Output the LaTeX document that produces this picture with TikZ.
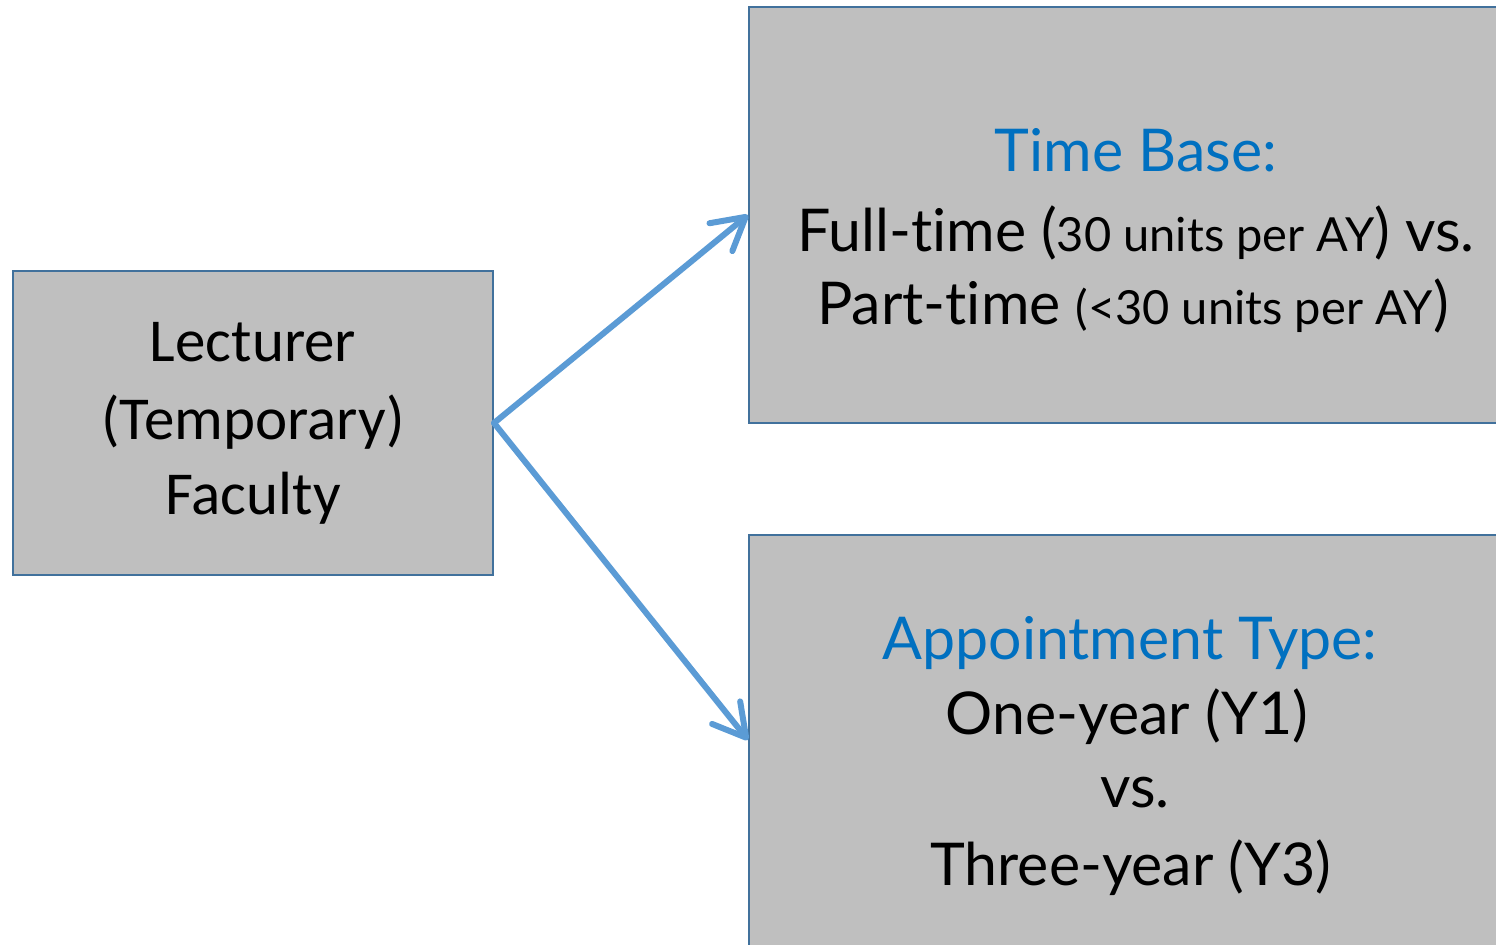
\documentclass[tikz,border=0pt]{standalone}
\usepackage{fontspec}
\setmainfont{Lato}[RawFeature={-liga;-clig;-dlig;-calt}]
\newfontfamily\calib{Carlito}
\usetikzlibrary{arrows.meta}
\definecolor{boxfill}{HTML}{BFBFBF}
\definecolor{boxline}{HTML}{41719C}
\definecolor{arrowblue}{HTML}{5B9BD5}
\definecolor{titleblue}{HTML}{0070C0}
\tikzset{
  box/.style={draw=boxline, line width=1pt, fill=boxfill},
  leftline/.style={anchor=base, inner sep=0pt, font=\calib\fontsize{30.5}{36}\selectfont},
  rightline/.style={anchor=base, inner sep=0pt, font=\fontsize{29.5}{34}\selectfont},
  title/.style={rightline, text=titleblue},
  conn/.style={draw=arrowblue, line width=3pt, line cap=round, line join=round,
    -{Straight Barb[length=16pt,width=18pt,line cap=round,line join=round]}},
}
\newcommand{\sm}[1]{{\fontsize{23.5}{28}\selectfont #1}}
\begin{document}
\begin{tikzpicture}[x=0.5pt,y=-0.5pt]
\useasboundingbox (0,0) rectangle (1496,945);
\begin{scope}
\clip (0,0) rectangle (1496,945);
\node[box, minimum width=240pt, minimum height=152pt, anchor=north west, inner sep=0pt] (left) at (12,270) {};
\node[box, minimum width=385pt, minimum height=208pt, anchor=north west, inner sep=0pt] (top) at (748,6) {};
\node[box, minimum width=385pt, minimum height=230pt, anchor=north west, inner sep=0pt] (bot) at (748,534) {};
\end{scope}
\node[leftline] (l1) at (253,362) {Lecturer};
\node[leftline] (l2) at (253,440) {(Temporary)};
\node[leftline] (l3) at (253,515) {Faculty};
\node[title] (t1) at (1136,172) {Time Base:};
\node[rightline] (t2) at (1136,252) {Full-time (\sm{30 units per AY}) vs.};
\node[rightline] (t3) at (1133,325) {Part-time \sm{(<30 units per AY})};
\node[title] (b1) at (1130,660) {Appointment Type:};
\node[rightline] (b2) at (1127,735) {One-year (Y1)};
\node[rightline] (b3) at (1135,808) {vs.};
\node[rightline] (b4) at (1131,886) {Three-year (Y3)};
\coordinate (src) at (left.east);
\draw[conn] (src) -- (top.west |- 0,215);
\draw[conn] (src) -- (bot.west |- 0,740);
\end{tikzpicture}
\end{document}
